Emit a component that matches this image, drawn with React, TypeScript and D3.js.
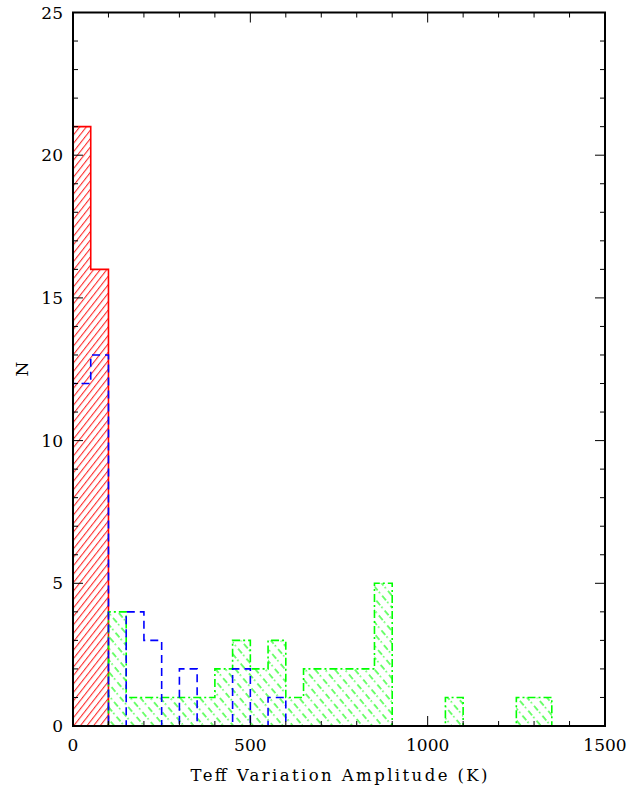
import React from "react";
import * as d3 from "d3";

// Histogram of Teff variation amplitudes, 50 K bins starting at 0 K
const BIN_WIDTH = 50;
const redCounts = [21, 16];
const blueCounts = [12, 13, 0, 4, 3, 0, 2, 0, 0, 2, 0, 1];
const greenCounts = [0, 0, 4, 1, 1, 1, 1, 1, 2, 3, 2, 3, 1, 2, 2, 2, 2, 5, 0, 0, 0, 1, 0, 0, 0, 1, 1];

const xMajorTicks = [0, 500, 1000, 1500];
const yMajorTicks = [0, 5, 10, 15, 20, 25];
const xDomain = [0, 1500];
const yDomain = [0, 25];

const W = 641;
const H = 786;
const M = { left: 73, right: 605, top: 12.5, bottom: 726 };

const x = d3.scaleLinear().domain(xDomain).range([M.left, M.right]);
const y = d3.scaleLinear().domain(yDomain).range([M.bottom, M.top]);

// Step outline of a histogram: start on the baseline, walk the bin tops, return to baseline
function stepPoints(counts: number[]): [number, number][] {
  const pts: [number, number][] = [[x(0), y(0)]];
  counts.forEach((c, i) => {
    pts.push([x(i * BIN_WIDTH), y(c)]);
    pts.push([x((i + 1) * BIN_WIDTH), y(c)]);
  });
  pts.push([x(counts.length * BIN_WIDTH), y(0)]);
  return pts;
}

const line = d3.line<[number, number]>();

export default function App() {
  const xMinor = d3.range(xDomain[0], xDomain[1] + 1, 100);
  const yMinor = d3.range(yDomain[0], yDomain[1] + 1, 1);
  const font = "'DejaVu Serif', serif";

  const red = stepPoints(redCounts);
  const blue = stepPoints(blueCounts);
  const green = stepPoints(greenCounts);

  return (
    <svg
      width={W}
      height={H}
      style={{ position: "absolute", left: 0, top: 0, background: "#fff" }}
    >
      <defs>
        <pattern
          id="redHatch"
          patternUnits="userSpaceOnUse"
          width={5.2}
          height={10}
          patternTransform="rotate(38)"
        >
          <line x1={0.6} y1={0} x2={0.6} y2={10} stroke="#ff0000" strokeWidth={0.9} />
        </pattern>
        <pattern
          id="greenHatch"
          patternUnits="userSpaceOnUse"
          width={7.6}
          height={13}
          patternTransform="rotate(-40)"
        >
          <line
            x1={1}
            y1={0}
            x2={1}
            y2={13}
            stroke="#00ff00"
            strokeWidth={1.1}
            strokeDasharray="6 2 1.5 3.5"
          />
        </pattern>
      </defs>

      <rect x={0} y={0} width={W} height={H} fill="#fff" />

      {/* red histogram */}
      <path d={line(red) + "Z"} fill="url(#redHatch)" stroke="none" />
      <path d={line(red)!} fill="none" stroke="#ff0000" strokeWidth={1.6} />

      {/* green histogram */}
      <path d={line(green) + "Z"} fill="url(#greenHatch)" stroke="none" />
      <path
        d={line(green)!}
        fill="none"
        stroke="#00ff00"
        strokeWidth={1.6}
        strokeDasharray="8 3 2 3"
      />

      {/* blue histogram */}
      <path
        d={line(blue)!}
        fill="none"
        stroke="#0000ff"
        strokeWidth={1.6}
        strokeDasharray="8 5"
      />

      {/* ticks on all four sides */}
      <g stroke="#000" strokeWidth={1}>
        {xMinor.map((v) => {
          const len = v % 500 === 0 ? 10 : 5;
          return (
            <g key={"xt" + v}>
              <line x1={x(v)} x2={x(v)} y1={M.bottom} y2={M.bottom - len} />
              <line x1={x(v)} x2={x(v)} y1={M.top} y2={M.top + len} />
            </g>
          );
        })}
        {yMinor.map((v) => {
          const len = v % 5 === 0 ? 10 : 5;
          return (
            <g key={"yt" + v}>
              <line x1={M.left} x2={M.left + len} y1={y(v)} y2={y(v)} />
              <line x1={M.right} x2={M.right - len} y1={y(v)} y2={y(v)} />
            </g>
          );
        })}
      </g>

      {/* frame */}
      <rect
        x={M.left}
        y={M.top}
        width={M.right - M.left}
        height={M.bottom - M.top}
        fill="none"
        stroke="#000"
        strokeWidth={2}
      />

      {/* tick labels */}
      <g fontFamily={font} fontSize={17} fill="#000">
        {xMajorTicks.map((v) => (
          <text key={"xl" + v} x={x(v)} y={751} textAnchor="middle">
            {v}
          </text>
        ))}
        {yMajorTicks.map((v) => (
          <text key={"yl" + v} x={63} y={y(v) + 6} textAnchor="end">
            {v}
          </text>
        ))}
      </g>

      {/* axis titles */}
      <text
        x={(M.left + M.right) / 2}
        y={781}
        textAnchor="middle"
        fontFamily={font}
        fontSize={16.5}
        textLength={297}
        lengthAdjust="spacing"
      >
        Teff Variation Amplitude (K)
      </text>
      <text
        transform="translate(28,369) rotate(-90)"
        textAnchor="middle"
        fontFamily={font}
        fontSize={17}
      >
        N
      </text>
    </svg>
  );
}
